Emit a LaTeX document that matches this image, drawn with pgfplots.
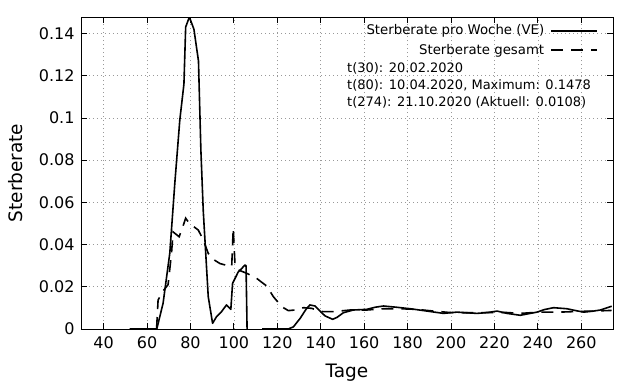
\documentclass[border=0pt]{standalone}
\usepackage{pgfplots}
\pgfplotsset{compat=1.18}
\usepackage{fontspec}
\setmainfont{DejaVu Sans}
\begin{document}
\begin{tikzpicture}
\useasboundingbox (0,0) rectangle (640pt,384pt);
\begin{axis}[
  at={(81pt,55pt)}, anchor=south west,
  scale only axis, width=532pt, height=312pt,
  xmin=29.6, xmax=274.6, ymin=0, ymax=0.1478,
  xtick={40,60,...,260},
  ytick={0,0.02,0.04,0.06,0.08,0.1,0.12,0.14},
  /pgf/number format/assume math mode=true,
  /pgf/number format/fixed,
  yticklabel style={/pgf/number format/fixed, /pgf/number format/precision=2},
  tick label style={font=\fontsize{16}{19}\selectfont},
  xticklabel style={yshift=-4.5pt},
  yticklabel style={xshift=-3pt},
  xtick pos=both, ytick pos=both, tick align=inside,
  major tick length=6pt,
  every tick/.style={black, line width=0.8pt},
  axis line style={line width=0.8pt},
  grid=major,
  major grid style={gray!80, line width=0.6pt, dash pattern=on 1pt off 3pt},
  xlabel={Tage}, ylabel={Sterberate},
  label style={font=\fontsize{18.5}{22}\selectfont},
  xlabel style={at={(axis description cs:0.5,-0.141)}, anchor=center},
  ylabel style={at={(axis description cs:-0.122,0.5)}, anchor=center, rotate=0},
  unbounded coords=jump,
  legend style={at={(rel axis cs:0.972,0.982)}, anchor=north east, draw=none, fill=none,
    font=\fontsize{13.3}{15}\selectfont, inner sep=0pt, row sep=3.6pt},
  legend cell align=right,
  legend plot pos=right,
  legend image code/.code={\path (-4pt,0pt); \draw[#1, line width=1.8pt] (0pt,0pt) -- (46pt,0pt);},
]
\addplot[black, line width=1.6pt, line join=round] coordinates {
(52,0) (64.5,0) (67.4,0.0122) (70.5,0.036) (72.8,0.069) (75.1,0.099) (77,0.116) (77.8,0.143)
(79.5,0.1478) (81.6,0.142) (83.7,0.127) (84.8,0.085) (85.9,0.056) (88.2,0.0153) (90.2,0.0027)
(92,0.0058) (94.3,0.0082) (96.6,0.0114) (98.6,0.0093) (99.4,0.0216) (102,0.027) (103,0.028)
(105.1,0.0303) (105.6,0.0300) (106.1,-0.001) (108,nan)
(113,0) (125,0) (127.4,0.001) (130.5,0.005) (133.2,0.0093) (135,0.0114) (137.4,0.0109)
(139.7,0.0085) (142,0.0062) (145.5,0.0046) (147.5,0.0055) (150.4,0.0077) (155,0.009)
(161.2,0.0093) (165,0.0103) (168.9,0.0109) (175,0.0103) (181.2,0.0096) (188.9,0.0085)
(196.5,0.0074) (202.7,0.008) (211.9,0.0074) (217,0.0078) (221.2,0.0085) (225.8,0.0074)
(231.9,0.0065) (239.6,0.008) (243,0.0092) (247.2,0.0101) (253.4,0.0096) (257,0.0088)
(261.1,0.008) (265,0.0084) (268.8,0.009) (274,0.0108)
};
\addlegendentry{Sterberate pro Woche (VE)}
\addplot[black, line width=1.6pt, dash pattern=on 12pt off 8pt] coordinates {
(64.4,0) (65.1,0.0137) (67,0.0175) (69.7,0.021) (71.3,0.036) (72,0.046) (74.8,0.0437)
(77,0.050) (77.8,0.0525) (79.5,0.050) (83.6,0.0469) (86,0.042) (88.2,0.0358) (90.5,0.033)
(93.6,0.031) (99,0.0295) (99.7,0.0477) (100.5,0.031) (102,0.028) (105.9,0.0264) (110.5,0.024)
(113,0.022) (115.1,0.0204) (118.2,0.0153) (122,0.0106) (125.1,0.0087) (128,0.009) (132,0.0101)
(135.8,0.0098) (139.7,0.0085) (141.2,0.0082) (145.8,0.0082) (153.5,0.009) (161.2,0.009)
(168.9,0.0096) (176.6,0.0096) (184.2,0.0093) (191.9,0.0085) (199.6,0.0078) (207.3,0.0077)
(216.5,0.0078) (225.8,0.0078) (231.9,0.0074) (241.1,0.008) (250.3,0.008) (258,0.0083)
(265.7,0.0085) (274,0.0088)
};
\addlegendentry{Sterberate gesamt}
\node[anchor=north west, align=left, inner sep=0pt, font=\fontsize{13}{16.7}\selectfont]
  at (rel axis cs:0.5,0.853) {t(30): 20.02.2020\\t(80): 10.04.2020, Maximum: 0.1478\\t(274): 21.10.2020 (Aktuell: 0.0108)};
\end{axis}
\end{tikzpicture}
\end{document}
